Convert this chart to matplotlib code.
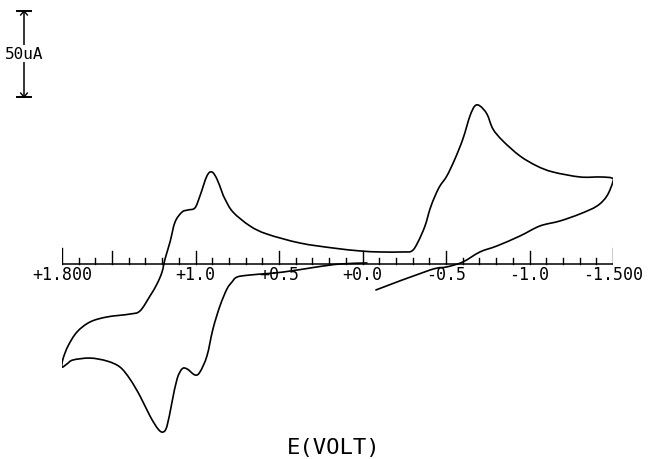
import numpy as np
import matplotlib
matplotlib.use("Agg")
import matplotlib.pyplot as plt
from matplotlib.path import Path
from matplotlib.patches import PathPatch

# cyclic voltammogram, potential in V, current in uA
E = [-0.080, -0.404, -0.505, -0.601, -0.703, -0.805, -0.943, -1.062, -1.182, -1.302,
     -1.404, -1.463, -1.499, -1.493, -1.422, -1.302, -1.140, -1.044, -0.943, -0.841,
     -0.781, -0.745, -0.703, -0.673, -0.643, -0.601, -0.553, -0.505, -0.463, -0.434,
     -0.404, -0.374, -0.332, -0.296, -0.242, -0.104, 0.016, 0.177, 0.375, 0.572,
     0.674, 0.776, 0.824, 0.842, 0.872, 0.902, 0.932, 0.974, 1.004, 1.046,
     1.081, 1.123, 1.153, 1.183, 1.201, 1.231, 1.273, 1.333, 1.393, 1.531,
     1.632, 1.710, 1.764, 1.794, 1.800, 1.770, 1.734, 1.632, 1.531, 1.453,
     1.393, 1.333, 1.273, 1.225, 1.195, 1.171, 1.141, 1.111, 1.081, 1.051,
     1.004, 0.974, 0.932, 0.896, 0.854, 0.812, 0.782, 0.752, 0.674, 0.477,
     0.273, 0.135, -0.026]
I = [-15.1, -3.5, -1.7, 1.2, 7.0, 10.5, 16.3, 22.1, 25.0, 29.1,
     33.7, 39.5, 47.7, 50.0, 50.6, 50.6, 53.5, 57.0, 62.8, 71.5,
     78.5, 87.2, 91.9, 91.9, 86.0, 72.7, 61.0, 51.2, 45.3, 39.5,
     32.0, 22.1, 12.8, 7.6, 7.0, 7.0, 7.6, 9.3, 12.2, 17.4,
     22.1, 30.2, 37.8, 41.9, 49.4, 53.5, 51.2, 39.5, 32.6, 31.4,
     30.2, 24.4, 12.8, 2.9, -4.7, -11.6, -18.6, -27.3, -29.1, -30.8,
     -33.7, -39.5, -47.7, -55.2, -59.9, -58.1, -55.8, -54.7, -56.4, -59.9,
     -66.9, -76.7, -88.4, -95.9, -97.7, -94.2, -80.2, -66.9, -61.0, -61.0,
     -64.5, -62.8, -53.5, -37.8, -24.4, -14.5, -10.5, -7.6, -6.4, -4.7,
     -1.7, 0.0, 0.6]

tick_vals = [1.8, 1.0, 0.5, 0.0, -0.5, -1.0, -1.5]
tick_labels = ["+1.800", "+1.0", "+0.5", "+0.0", "-0.5", "-1.0", "-1.500"]

upx = 50 / 86.0  # uA per pixel


def smooth_path(xs, ys):
    # draw the trace through the read points with Catmull-Rom style Bezier segments
    P = np.column_stack([xs, ys])
    n = len(P)
    verts = [P[0]]
    codes = [Path.MOVETO]
    for i in range(n - 1):
        p0 = P[i - 1] if i > 0 else P[i]
        p1, p2 = P[i], P[i + 1]
        p3 = P[i + 2] if i + 2 < n else P[i + 1]
        verts += [p1 + (p2 - p0) / 6, p2 - (p3 - p1) / 6, p2]
        codes += [Path.CURVE4] * 3
    return Path(verts, codes)


fig = plt.figure(figsize=(6.48, 4.60), dpi=100)
ax = fig.add_axes([62 / 648, 0, 551 / 648, 1])
ax.set_xlim(1.8, -1.5)
ax.set_ylim(-195 * upx, 265 * upx)
ax.axis("off")

ax.add_patch(PathPatch(smooth_path(E, I), facecolor="none", edgecolor="black",
                       lw=1.2, joinstyle="round", capstyle="round"))

# potential axis drawn on the zero-current line
ax.plot([1.8, -1.5], [0, 0], color="black", lw=1.1)
for k in range(34):
    v = 1.8 - 0.1 * k
    if k == 0 or k == 33:
        h = 16
    elif abs(v * 2 - round(v * 2)) < 1e-6:
        h = 13
    else:
        h = 6
    ax.plot([v, v], [0, h * upx], color="black", lw=1.0)

for v, s in zip(tick_vals, tick_labels):
    ax.text(v, -10 * upx, s, ha="center", va="center", fontsize=12,
            family="DejaVu Sans Mono")

ax.text(0.17, -183 * upx, "E(VOLT)", ha="center", va="center", fontsize=16,
        family="DejaVu Sans Mono")

# 50 uA scale bar
xb = 1.8 + 38 / 167.0
yt, yb = (265 - 12) * upx, (265 - 98) * upx
ax.plot([xb, xb], [yb, yt], color="black", lw=1.1, clip_on=False)
for yy in (yt, yb):
    ax.plot([xb - 0.04, xb + 0.04], [yy, yy], color="black", lw=1.4, clip_on=False)
    d = -1 if yy == yt else 1
    ax.plot([xb - 0.02, xb, xb + 0.02], [yy + d * 4 * upx, yy, yy + d * 4 * upx],
            color="black", lw=1.0, clip_on=False)
ax.text(xb, (265 - 54.5) * upx, "50uA", ha="center", va="center", fontsize=11.5,
        family="DejaVu Sans Mono", clip_on=False,
        bbox=dict(facecolor="white", edgecolor="none", pad=1))

fig.savefig("out.png", dpi=100)
